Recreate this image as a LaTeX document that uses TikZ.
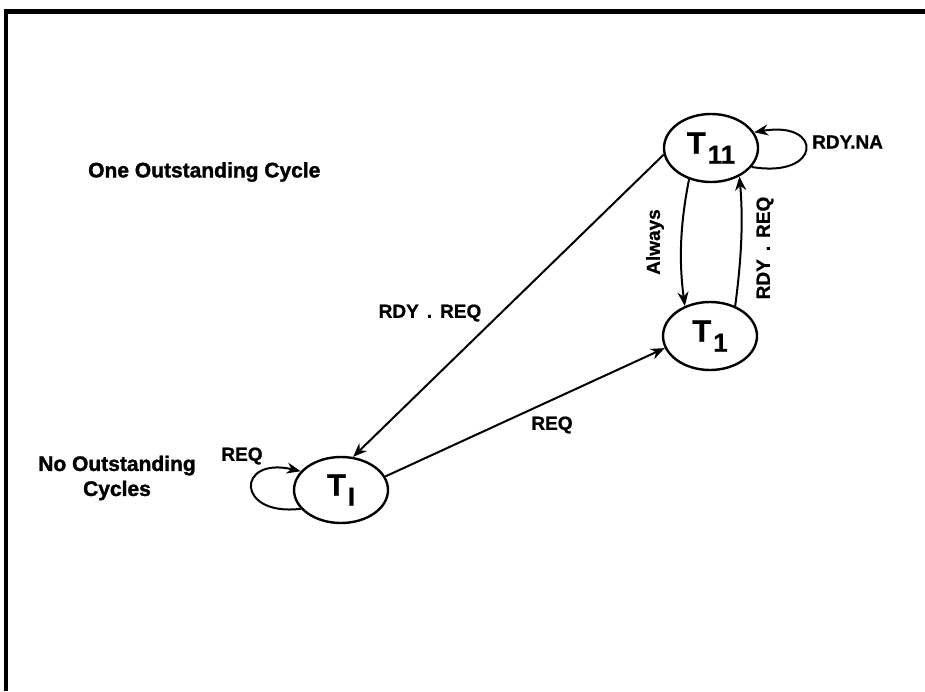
\documentclass[tikz,border=0pt]{standalone}
\usepackage{fontspec}
\setmainfont{Liberation Sans}
\newfontfamily\heavy{Liberation Sans Bold}[FakeBold=1.5]
\newfontfamily\semiheavy{Liberation Sans Bold}[FakeBold=0.8]
\usetikzlibrary{arrows.meta,shapes.geometric}
\newcommand\Tsub[1]{{\fontsize{31}{31}\selectfont T}\kern2pt\raisebox{-10pt}{\fontsize{26}{26}\selectfont #1}}
\begin{document}
\begin{tikzpicture}[x=1pt,y=-1pt,
  state/.style={draw, ellipse, line width=2.4pt, minimum width=94pt, minimum height=68pt, inner sep=0pt, font=\semiheavy},
  edge/.style={line width=2pt, -{Stealth[length=14pt,width=11pt]}},
  lbl/.style={font=\fontsize{19}{21}\selectfont\semiheavy, inner sep=0pt},
  head/.style={font=\fontsize{21}{25}\selectfont\heavy, inner sep=0pt, align=center}]
\useasboundingbox (0,0) rectangle (925,691);
\draw[line width=5pt] (4,11) -- (925,11);
\draw[line width=3.5pt] (6,9) -- (6,691);

\node[state] (T11) at (711,148) {\Tsub{11}};
\node[state] (T1) at (710,336) {\Tsub{1}};
\node[state, minimum height=66pt] (TI) at (341,490) {\Tsub{I}};

\node[head, anchor=west] (h1) at (88,172) {One Outstanding Cycle};
\node[head] (h2) at (117,478) {No Outstanding\\Cycles};

\draw[edge] (T11.188) -- (TI.70);
\draw[edge] (TI.17) -- (T1.195);
\draw[edge] (T11.235) .. controls +(-9,45) and +(-6,-45) .. (T1.130);
\draw[edge] (T1.50) .. controls +(6,-45) and +(4,45) .. (T11.-45);
\draw[edge] (T11.-25) .. controls +(70,12) and +(70,-12) .. (T11.20);
\draw[edge] (TI.205) .. controls +(-65,8) and +(-65,-15) .. (TI.155);

\node[lbl, anchor=west] (l1) at (812,142) {RDY.NA};
\node[lbl] (l2) at (242,456) {REQ};
\node[lbl] (l3) at (430,313) {RDY\hspace{8pt}.\hspace{8pt}REQ};
\node[lbl] (l4) at (552,425) {REQ};
\node[lbl, rotate=90] (l5) at (655,242) {Always};
\node[lbl, rotate=90] (l6) at (765,248) {RDY\hspace{8pt}.\hspace{8pt}REQ};
\end{tikzpicture}
\end{document}
